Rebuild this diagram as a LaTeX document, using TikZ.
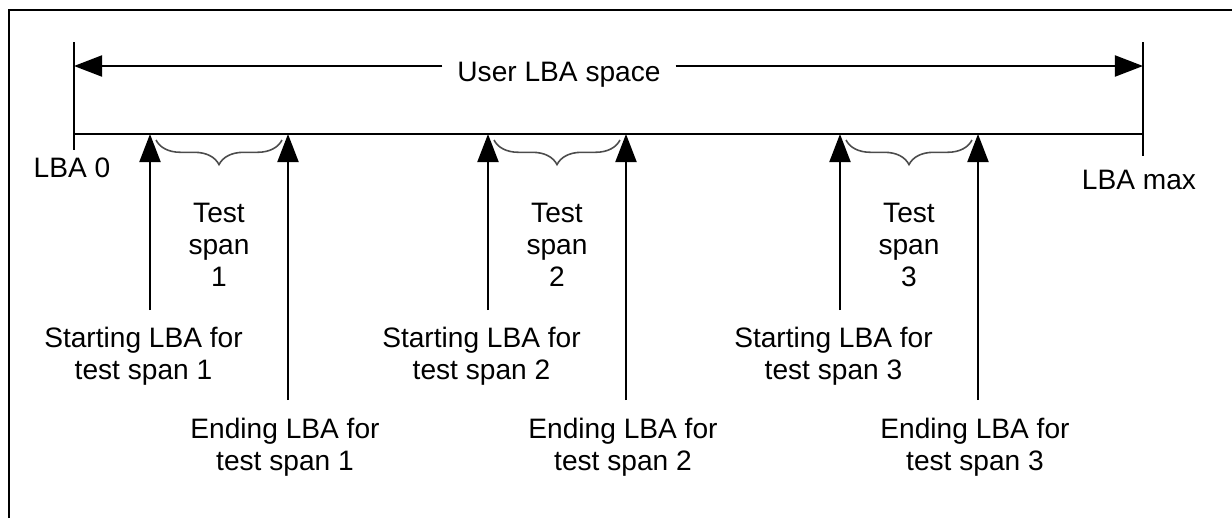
\documentclass[tikz,border=0pt]{standalone}
\usepackage{fontspec}
\setmainfont{Liberation Sans}
\usetikzlibrary{arrows.meta,positioning,decorations.pathreplacing}

\begin{document}
\begin{tikzpicture}[
        x=0.02cm,y=-0.02cm,
        line width=1.1pt,
        lbl/.style={
          align=center,
          inner sep=0pt,
          font=\fontsize{16}{18.2}\selectfont
        },
        tip/.style={
          -{Triangle[length=16pt,width=12pt]}
        },
        span/.style={
          draw=gray!60!black,
          line width=0.9pt,
          decorate,
          decoration={brace,mirror,amplitude=14pt}
        }
        ]
        \useasboundingbox (0,0) rectangle (1232,518);
        % frame
        \draw[line width=1.3pt] (9,518) -- (9,10) -- (1232,10);

        % user LBA space
        \coordinate (lo) at (74,42);
        \coordinate (lo-b) at (74,150);
        \coordinate (hi) at (1143,42);
        \coordinate (hi-b) at (1143,156);
        \coordinate (base0) at (74,134);
        \coordinate (basemax) at (1143,134);
        \coordinate (arL) at (74,66);
        \coordinate (arR) at (1143,66);
        \draw (lo) -- (lo-b);
        \draw (hi) -- (hi-b);
        \draw (base0) -- (basemax);
        \node[lbl,inner xsep=8pt,anchor=base] at (559,81) 
          (user) {User LBA space};
        \draw[tip] (arL -| user.west) -- (arL);
        \draw[tip] (arR -| user.east) -- (arR);
        \node[lbl] at (72,168) (lba0) {LBA 0};
        \node[lbl] at (1139,180) (lbamax) {LBA max};

        % span 1
        \coordinate (s1) at (150,310);
        \coordinate (e1) at (288,400);
        \draw[tip] (s1) -- (s1 |- base0);
        \draw[tip] (e1) -- (e1 |- base0);
        \draw[span] (156,140) -- (282,140);
        \node[lbl,anchor=north] at (219,202) 
          (test1) {Test\\span\\1};
        \node[lbl,anchor=north] at (143.5,326) 
          (start1) {Starting LBA for\\test span 1};
        \node[lbl,anchor=north] at (285,417) 
          (end1) {Ending LBA for\\test span 1};

        % span 2
        \coordinate (s2) at (488,310);
        \coordinate (e2) at (626,400);
        \draw[tip] (s2) -- (s2 |- base0);
        \draw[tip] (e2) -- (e2 |- base0);
        \draw[span] (494,140) -- (620,140);
        \node[lbl,anchor=north] at (557,202) 
          (test2) {Test\\span\\2};
        \node[lbl,anchor=north] at (481.5,326) 
          (start2) {Starting LBA for\\test span 2};
        \node[lbl,anchor=north] at (623,417) 
          (end2) {Ending LBA for\\test span 2};

        % span 3
        \coordinate (s3) at (840,310);
        \coordinate (e3) at (978,400);
        \draw[tip] (s3) -- (s3 |- base0);
        \draw[tip] (e3) -- (e3 |- base0);
        \draw[span] (846,140) -- (972,140);
        \node[lbl,anchor=north] at (909,202) 
          (test3) {Test\\span\\3};
        \node[lbl,anchor=north] at (833.5,326) 
          (start3) {Starting LBA for\\test span 3};
        \node[lbl,anchor=north] at (975,417) 
          (end3) {Ending LBA for\\test span 3};
\end{tikzpicture}
\end{document}
